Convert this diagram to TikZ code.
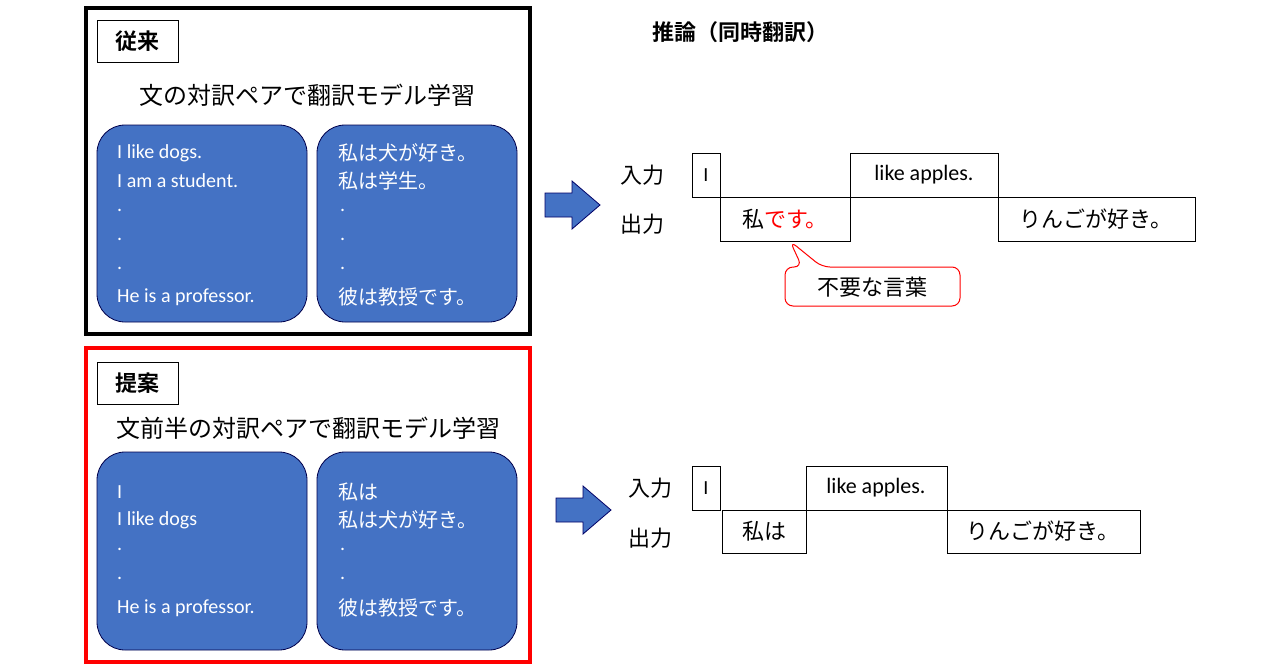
\documentclass[tikz,border=0pt]{standalone}
\usepackage{fontspec}
\setmainfont{Carlito}
\newfontfamily\cjk{Noto Sans CJK JP}
\newfontfamily\cjkb{Noto Sans CJK JP Bold}
\begin{document}
\begin{tikzpicture}[x=1pt,y=-1pt,
  blue/.style={draw=blue!30!black,fill=bblue,rounded corners=28pt,line width=0.8pt},
  wt/.style={text=white,font=\fontsize{20}{24}\selectfont,anchor=west,inner sep=0},
  wj/.style={text=white,font=\cjk\fontsize{20}{24}\selectfont,anchor=west,inner sep=0},
  lab/.style={draw,line width=1pt,font=\cjkb\fontsize{22}{26}\selectfont,minimum width=81pt,minimum height=42pt,inner sep=0},
  cell/.style={draw,line width=1pt,anchor=north west,inner sep=0},
  jp/.style={font=\cjk\fontsize{22}{26}\selectfont},
  barrow/.style={fill=bblue,draw=blue!40!black,line width=0.8pt}]
\definecolor{bblue}{HTML}{4472C4}
\useasboundingbox (0,0) rectangle (1280,670);
% conventional
\draw[line width=4pt] (86,8) rectangle (530,334);
\node[lab] (l1) at (137.5,41) {従来};
\node[jp,font=\cjk\fontsize{24}{28}\selectfont] (t1) at (307,95) {文の対訳ペアで翻訳モデル学習};
\draw[blue] (97,125) rectangle (307,322);
\draw[blue] (317,125) rectangle (517,322);
\node[wt] (a1) at (117,153) {I like dogs.};
\node[wt] (a2) at (117,181) {I am a student.};
\node[wt] (a3) at (117,210) {.};
\node[wt] (a4) at (117,239) {.};
\node[wt] (a5) at (117,268) {.};
\node[wt] (a6) at (117,297) {He is a professor.};
\node[wj] (b1) at (338,153) {私は犬が好き。};
\node[wj] (b2) at (338,181) {私は学生。};
\node[wt] (b3) at (340,210) {.};
\node[wt] (b4) at (340,239) {.};
\node[wt] (b5) at (340,268) {.};
\node[wj] (b6) at (338,297) {彼は教授です。};
\draw[barrow] (545,193)--(572,193)--(572,181)--(600,205)--(572,229)--(572,217)--(545,217)--cycle;
\node[font=\cjkb\fontsize{22}{26}\selectfont] (inf) at (740,32) {推論（同時翻訳）};
\node[jp] (in1) at (642,175) {入力};
\node[jp] (out1) at (642,224) {出力};
\draw[cell] (692,153) rectangle (720,197); \node (c1) at (706,175) {\fontsize{20}{24}\selectfont I};
\draw[cell] (720,197) rectangle (850,241); \node[jp] (c2) at (785,219) {私\textcolor{red}{です。}};
\draw[cell] (850,153) rectangle (998,197); \node (c3) at (924,175) {\fontsize{22}{26}\selectfont like apples.};
\draw[cell] (998,197) rectangle (1195,241); \node[jp] (c4) at (1096,219) {りんごが好き。};
\draw[red,line width=1pt,fill=white,rounded corners=8pt] (785,267)--(785,306)--(960,306)--(960,267)--(822,267)--(790,241)--(802,267)--cycle;
\node[jp] (callout) at (872,287) {不要な言葉};
% proposed
\draw[red,line width=4pt] (86,348) rectangle (530,662);
\node[lab] (l2) at (137.5,383) {提案};
\node[jp,font=\cjk\fontsize{24}{28}\selectfont] (t2) at (308,428) {文前半の対訳ペアで翻訳モデル学習};
\draw[blue] (97,452) rectangle (307,650);
\draw[blue] (317,452) rectangle (517,650);
\node[wt] (d1) at (117,492) {I};
\node[wt] (d2) at (117,520) {I like dogs};
\node[wt] (d3) at (117,549) {.};
\node[wt] (d4) at (117,578) {.};
\node[wt] (d5) at (117,608) {He is a professor.};
\node[wj] (e1) at (338,492) {私は};
\node[wj] (e2) at (338,520) {私は犬が好き。};
\node[wt] (e3) at (340,549) {.};
\node[wt] (e4) at (340,578) {.};
\node[wj] (e5) at (338,608) {彼は教授です。};
\draw[barrow] (556,498)--(583,498)--(583,486)--(611,510)--(583,534)--(583,522)--(556,522)--cycle;
\node[jp] (in2) at (650,488) {入力};
\node[jp] (out2) at (650,538) {出力};
\draw[cell] (692,466) rectangle (720,510); \node (f1) at (706,488) {\fontsize{20}{24}\selectfont I};
\draw[cell] (722,510) rectangle (806,553); \node[jp] (f2) at (764,531) {私は};
\draw[cell] (806,466) rectangle (947,510); \node (f3) at (876,488) {\fontsize{22}{26}\selectfont like apples.};
\draw[cell] (947,510) rectangle (1140,553); \node[jp] (f4) at (1043,531) {りんごが好き。};
\end{tikzpicture}
\end{document}
